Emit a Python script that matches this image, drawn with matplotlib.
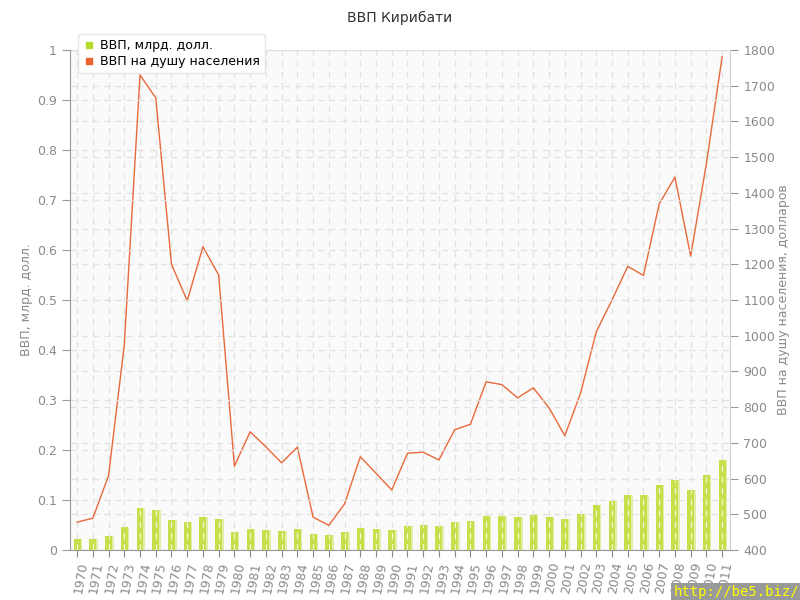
import matplotlib
matplotlib.use("Agg")
import matplotlib.pyplot as plt
from matplotlib.lines import Line2D

years = list(range(1970, 2012))
gdp_bn = [0.022, 0.023, 0.029, 0.047, 0.085, 0.081, 0.061, 0.057, 0.066, 0.063,
          0.037, 0.042, 0.041, 0.039, 0.043, 0.032, 0.031, 0.036, 0.045, 0.043,
          0.041, 0.049, 0.051, 0.049, 0.056, 0.058, 0.068, 0.069, 0.067, 0.071,
          0.067, 0.062, 0.073, 0.091, 0.099, 0.110, 0.110, 0.130, 0.140, 0.120,
          0.150, 0.180]
gdp_pc = [478, 489, 608, 974, 1730, 1666, 1200, 1098, 1249, 1170,
          635, 731, 689, 644, 688, 492, 469, 529, 661, 615,
          568, 671, 674, 652, 737, 752, 871, 863, 826, 854,
          798, 720, 839, 1011, 1100, 1194, 1169, 1369, 1444, 1223,
          1482, 1781]

left_ticks = [0, 0.1, 0.2, 0.3, 0.4, 0.5, 0.6, 0.7, 0.8, 0.9, 1]
left_labels = ["0", "0.1", "0.2", "0.3", "0.4", "0.5", "0.6", "0.7", "0.8", "0.9", "1"]
right_ticks = list(range(400, 1900, 100))

BAR = "#c5e04a"
BAR_LIGHT = "#e0eea8"
LINE = "#e8693a"
GRID = "#e2e2e2"
TXT = "#8a8a8a"
DASH = (0, (5, 4))

fig = plt.figure(figsize=(8, 6), dpi=100)
ax = fig.add_axes([70 / 800, 50 / 600, 660 / 800, 500 / 600])
ax2 = ax.twinx()

# right axis sits behind the bars and carries background + grid
ax.set_zorder(1)
ax2.set_zorder(0)
ax.patch.set_visible(False)
ax2.patch.set_visible(True)
ax2.patch.set_facecolor("#fafafa")

x = list(range(len(years)))

ax2.yaxis.grid(True, color=GRID, ls=DASH, lw=0.9)
for i in x:
    ax2.axvline(i, color=GRID, ls=DASH, lw=0.9, zorder=0.6)
ax2.plot(x, gdp_pc, color=LINE, lw=1.0, zorder=3)
ax2.set_ylim(400, 1800)
ax2.set_yticks(right_ticks)

for v in left_ticks:
    ax.axhline(v, color=GRID, ls=DASH, lw=0.9, zorder=0.5)
ax.bar([i + 0.09 for i in x], gdp_bn, width=0.46, color=BAR_LIGHT, zorder=1)
ax.bar(x, gdp_bn, width=0.44, color=BAR, zorder=2)
ax.vlines(x, 0, gdp_bn, color="white", alpha=0.75, ls=DASH, lw=0.9, zorder=2.5)

ax.set_xlim(-0.45, 41.5)
ax.set_ylim(0, 1)
ax.set_yticks(left_ticks)
ax.set_yticklabels(left_labels)
ax.set_xticks(x)
ax.set_xticklabels([str(y) for y in years], rotation=80, ha="right",
                   va="top", rotation_mode="anchor")

for a in (ax, ax2):
    a.tick_params(colors=TXT, labelsize=9, length=6, width=0.8)
    a.tick_params(axis="x", length=5, pad=3)
    for s in a.spines.values():
        s.set_visible(False)
ax.spines["left"].set_visible(True)
ax.spines["left"].set_color("#999999")
ax.spines["bottom"].set_visible(True)
ax.spines["bottom"].set_color("#999999")
ax2.spines["right"].set_visible(True)
ax2.spines["right"].set_color("#d0d0d0")
ax2.spines["top"].set_visible(True)
ax2.spines["top"].set_color("#dddddd")
ax.tick_params(axis="y", colors="#999999", labelcolor=TXT)
ax2.tick_params(axis="y", colors="#999999", labelcolor=TXT)

ax.set_ylabel("ВВП, млрд. долл.", color=TXT, fontsize=9)
ax.yaxis.set_label_coords(-0.056, 0.5)
ax2.set_ylabel("ВВП на душу населения, долларов", color=TXT, fontsize=9)
ax2.yaxis.set_label_coords(1.071, 0.5)

fig.text(0.5, 0.97, "ВВП Кирибати", ha="center", va="center", fontsize=10, color="#333333")

handles = [
    Line2D([], [], marker="s", ls="none", color="#b5dc2a", markersize=5),
    Line2D([], [], marker="s", ls="none", color="#e8632e", markersize=5),
]
fig.legend(handles, ["ВВП, млрд. долл.", "ВВП на душу населения"],
           loc="upper left", bbox_to_anchor=(78 / 800, 1 - 34 / 600),
           fontsize=9, frameon=True, fancybox=True, shadow=False,
           framealpha=1, edgecolor="#e6e6e6", handletextpad=0.4,
           borderpad=0.4, labelspacing=0.25, handlelength=1.0,
           borderaxespad=0)

fig.text(0.999, 0.001, "http://be5.biz/", ha="right", va="bottom", fontsize=10,
         color="#ffff00", family="DejaVu Sans Mono",
         bbox=dict(facecolor="#999999", edgecolor="none", pad=2))

fig.savefig("out.png", dpi=100)
